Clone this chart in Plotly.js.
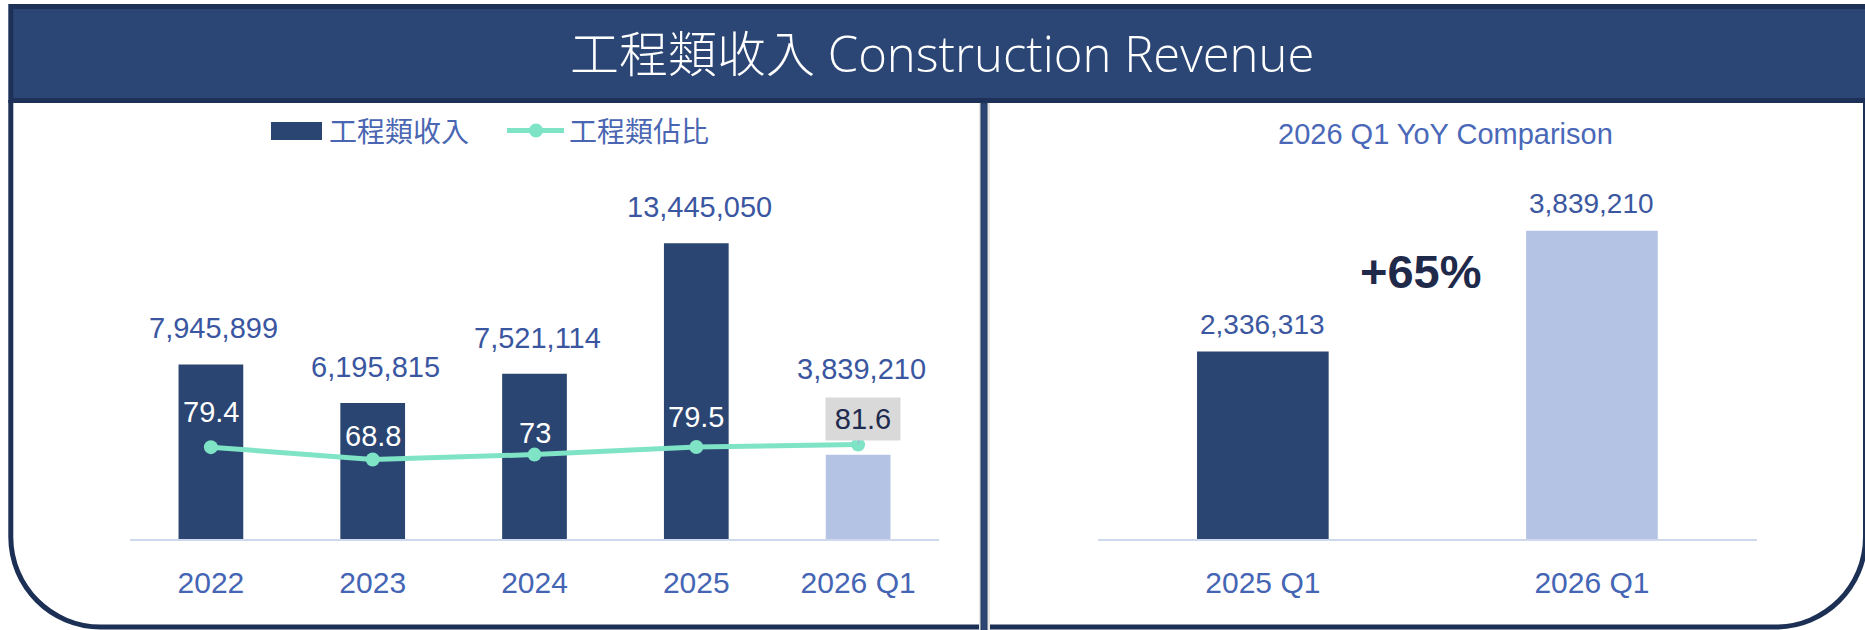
<!DOCTYPE html>
<html>
<head>
<meta charset="utf-8">
<script src="https://cdn.plot.ly/plotly-3.0.1.min.js"></script>
<style>
html,body{margin:0;padding:0;background:#ffffff;}
#chart{width:1865px;height:630px;}
</style>
</head>
<body>
<div id="chart"></div>
<script>
// ---------- data ----------
const pageTitle = '工程類收入 Construction Revenue';
const seriesNames = ['工程類收入', '工程類佔比'];
const years = ['2022', '2023', '2024', '2025', '2026 Q1'];
const revenue = [7945899, 6195815, 7521114, 13445050, 3839210];
const ratio = [79.4, 68.8, 73, 79.5, 81.6];
const yoyTitle = '2026 Q1 YoY Comparison';
const yoyCategories = ['2025 Q1', '2026 Q1'];
const yoyRevenue = [2336313, 3839210];
const yoyLabel = '+65%';

// ---------- styles ----------
const W = 1865, H = 630;
const px = x => x / W;
const py = y => 1 - y / H;
const DARK = '#2a4571', LIGHT = '#b4c2e3', MINT = '#7fe3c6';
const barColors = [DARK, DARK, DARK, DARK, LIGHT];
const yoyColors = [DARK, LIGHT];
const revLabelShift = [36, 36, 36, 36, 86];
const ratioLabelShift = [35, 23, 22, 30, 26];
const NUM = 'Liberation Sans, Arial, sans-serif';
const CJK = 'Noto Sans CJK TC, Noto Sans CJK SC, sans-serif';
const fmt = v => v.toLocaleString('en-US');

const traces = [
  {type: 'bar', name: seriesNames[0], x: years, y: revenue, xaxis: 'x', yaxis: 'y',
   width: 0.4, marker: {color: barColors, line: {width: 0}}, hoverinfo: 'skip', showlegend: false},
  {type: 'scatter', mode: 'lines+markers', name: seriesNames[1], x: years, y: ratio, xaxis: 'x', yaxis: 'y2',
   line: {color: MINT, width: 5}, marker: {color: MINT, size: 14}, hoverinfo: 'skip', showlegend: false, cliponaxis: false},
  {type: 'bar', name: seriesNames[0], x: yoyCategories, y: yoyRevenue, xaxis: 'x2', yaxis: 'y3',
   width: 0.4, marker: {color: yoyColors, line: {width: 0}}, hoverinfo: 'skip', showlegend: false}
];

const annotations = [];
// header title
annotations.push({xref: 'paper', yref: 'paper', x: px(942), y: py(53), xanchor: 'center', yanchor: 'middle',
  text: pageTitle, showarrow: false,
  font: {family: 'Open Sans, Noto Sans CJK TC, sans-serif', size: 49, color: '#ffffff', weight: 300}});
// legend texts
annotations.push({xref: 'paper', yref: 'paper', x: px(327), y: py(130), xanchor: 'left', yanchor: 'middle',
  text: seriesNames[0], showarrow: false, font: {family: CJK, size: 28, color: '#4a66b3'}});
annotations.push({xref: 'paper', yref: 'paper', x: px(567), y: py(130), xanchor: 'left', yanchor: 'middle',
  text: seriesNames[1], showarrow: false, font: {family: CJK, size: 28, color: '#4a66b3'}});
// revenue labels (x given as category index)
years.forEach((c, i) => {
  annotations.push({xref: 'x', yref: 'y', x: i, y: revenue[i], xanchor: 'center', yanchor: 'middle',
    yshift: revLabelShift[i], xshift: 3, text: fmt(revenue[i]), showarrow: false,
    font: {family: NUM, size: 29, color: '#3a56a0'}});
});
// ratio labels
years.forEach((c, i) => {
  const last = i === years.length - 1;
  if (last) {
    annotations.push({xref: 'x', yref: 'y2', x: i, y: ratio[i], xanchor: 'center', yanchor: 'middle',
      text: String(ratio[i]), showarrow: true, arrowhead: 0, arrowwidth: 1, arrowcolor: '#9fb0da',
      ax: 5, ay: -ratioLabelShift[i], standoff: 0,
      bgcolor: '#d9d9d9', width: 70, height: 38, borderpad: 2,
      font: {family: NUM, size: 29, color: '#1f2b4e'}});
  } else {
    annotations.push({xref: 'x', yref: 'y2', x: i, y: ratio[i], xanchor: 'center', yanchor: 'middle',
      yshift: ratioLabelShift[i], text: String(ratio[i]), showarrow: false,
      font: {family: NUM, size: 29, color: '#ffffff'}});
  }
});
// right chart
annotations.push({xref: 'paper', yref: 'paper', x: px(1445), y: py(134), xanchor: 'center', yanchor: 'middle',
  text: yoyTitle, showarrow: false, font: {family: NUM, size: 29, color: '#4a68b8'}});
yoyCategories.forEach((c, i) => {
  annotations.push({xref: 'x2', yref: 'y3', x: i, y: yoyRevenue[i], xanchor: 'center', yanchor: 'middle',
    yshift: 27, text: fmt(yoyRevenue[i]), showarrow: false,
    font: {family: NUM, size: 28, color: '#3b57a0'}});
});
annotations.push({xref: 'paper', yref: 'paper', x: px(1421), y: py(271), xanchor: 'center', yanchor: 'middle',
  text: '<b>' + yoyLabel + '</b>', showarrow: false, font: {family: NUM, size: 47, color: '#1f2a4b'}});

// frame path (bottom corners rounded)
const r = 90, k = 0.5523 * r;
const L = 10.8, R = 1865.5, B = 627, T = 100;
const P = (x, y) => px(x).toFixed(5) + ',' + py(y).toFixed(5);
const framePath = 'M' + P(L, T) + ' L' + P(L, B - r) +
  ' C' + P(L, B - r + k) + ' ' + P(L + r - k, B) + ' ' + P(L + r, B) +
  ' L' + P(R - r, B) +
  ' C' + P(R - r + k, B) + ' ' + P(R, B - r + k) + ' ' + P(R, B - r) +
  ' L' + P(R, T);

const shapes = [
  // outer frame
  {type: 'path', xref: 'paper', yref: 'paper', path: framePath, line: {color: '#1c2f55', width: 5}, fillcolor: 'rgba(0,0,0,0)', layer: 'below'},
  // header band
  {type: 'rect', xref: 'paper', yref: 'paper', x0: px(10.8), x1: px(1885), y0: py(100.5), y1: py(6.5),
   fillcolor: '#2b4674', line: {color: '#1d3057', width: 5}, layer: 'below'},
  // divider shadow + bar
  {type: 'rect', xref: 'paper', yref: 'paper', x0: px(979), x1: px(990), y0: py(632), y1: py(103),
   fillcolor: '#e6e6e6', line: {width: 0}, layer: 'below'},
  {type: 'rect', xref: 'paper', yref: 'paper', x0: px(981), x1: px(987), y0: py(632), y1: py(103),
   fillcolor: '#2b4674', line: {color: '#22385f', width: 1}, layer: 'below'},
  // legend: bar swatch
  {type: 'rect', xref: 'paper', yref: 'paper', x0: px(271), x1: px(322), y0: py(140), y1: py(122),
   fillcolor: DARK, line: {width: 0}},
  // legend: line swatch
  {type: 'line', xref: 'paper', yref: 'paper', x0: px(507), x1: px(564), y0: py(130.5), y1: py(130.5),
   line: {color: MINT, width: 5}},
  {type: 'circle', xref: 'paper', yref: 'paper', x0: px(529), x1: px(543), y0: py(137.5), y1: py(123.5),
   fillcolor: MINT, line: {width: 0}}
];

const axisStyle = () => ({showline: true, linecolor: '#cfd9ee', linewidth: 2, showgrid: false, zeroline: false,
  ticks: '', ticklabelstandoff: 16, fixedrange: true, autorange: false,
  tickfont: {family: NUM, size: 30, color: '#4464b4'}});

const layout = {
  width: W, height: H,
  margin: {l: 0, r: 0, t: 0, b: 0, pad: 0},
  paper_bgcolor: '#ffffff', plot_bgcolor: 'rgba(0,0,0,0)',
  showlegend: false,
  xaxis: Object.assign(axisStyle(), {domain: [px(130), px(939)], type: 'category', anchor: 'y',
    categoryorder: 'array', categoryarray: years, range: [-0.5, years.length - 0.5]}),
  yaxis: {domain: [py(539.3), py(187.1)], range: [0, 16e6], autorange: false, visible: false, fixedrange: true},
  yaxis2: {overlaying: 'y', range: [0, 303.5], autorange: false, visible: false, fixedrange: true},
  xaxis2: Object.assign(axisStyle(), {domain: [px(1098.3), px(1756.5)], type: 'category', anchor: 'y3',
    categoryorder: 'array', categoryarray: yoyCategories, range: [-0.5, yoyCategories.length - 0.5]}),
  yaxis3: {domain: [py(539.3), py(187.1)], range: [0, 4.3806e6], autorange: false, visible: false, anchor: 'x2', fixedrange: true},
  annotations: annotations,
  shapes: shapes
};

Plotly.newPlot('chart', traces, layout, {displayModeBar: false, staticPlot: true});
</script>
</body>
</html>
